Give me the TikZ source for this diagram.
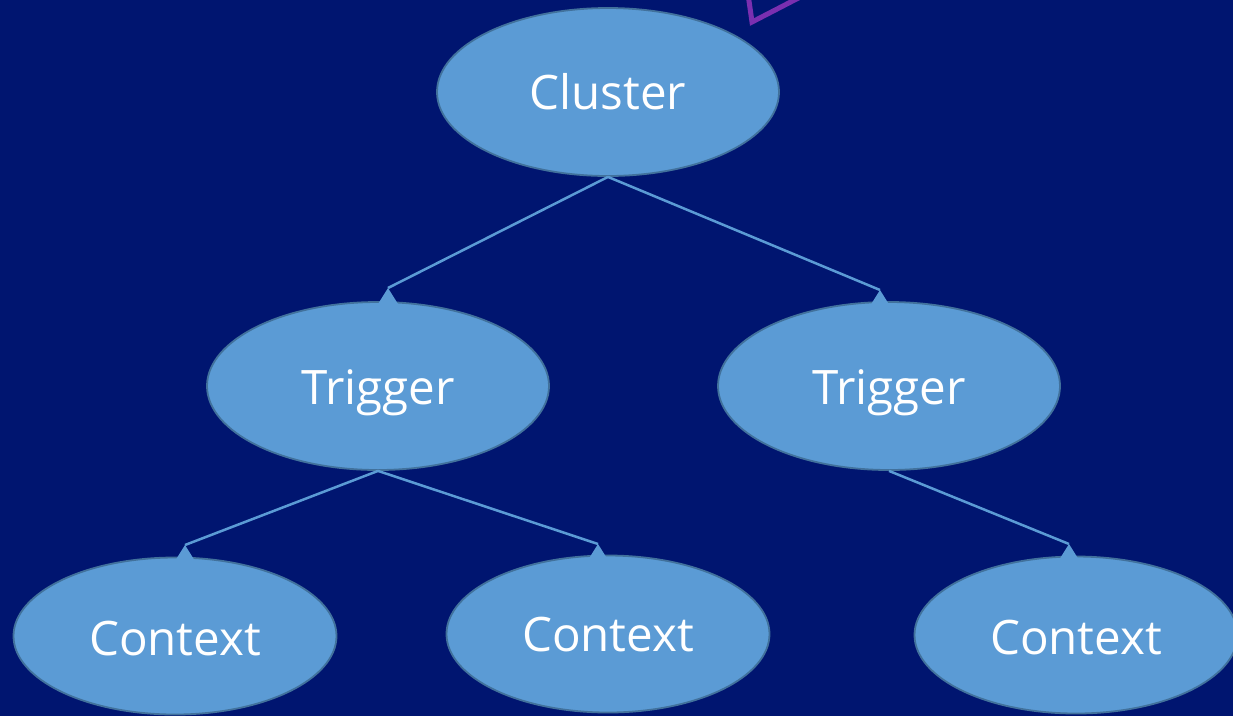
\documentclass[tikz,border=0pt]{standalone}
\usepackage{fontspec}
\setmainfont{Open Sans}
\usetikzlibrary{shapes.geometric}
\definecolor{bgblue}{HTML}{001570}
\definecolor{nodefill}{HTML}{5B9BD5}
\definecolor{nodeedge}{HTML}{41719C}
\definecolor{linkblue}{HTML}{5B9BD5}
\definecolor{accentpurple}{HTML}{7A2FB0}
\tikzset{
  bubble/.style={ellipse, fill=nodefill, draw=nodeedge, line width=1.8pt,
    inner sep=0pt, text=white, font=\fontsize{47.5}{52}\selectfont,
    text height=36pt, text depth=0pt},
  bigbubble/.style={bubble, minimum width=342pt, minimum height=168pt},
  smallbubble/.style={bubble, minimum width=323pt, minimum height=157pt},
  link/.style={draw=linkblue, line width=2.5pt},
  tiphead/.style={fill=linkblue}
}
\begin{document}
\begin{tikzpicture}[x=1pt,y=-1pt]
  \fill[bgblue] (0,0) rectangle (1233,716);
  \useasboundingbox (0,0) rectangle (1233,716);
  \clip (0,0) rectangle (1233,716);

  % partial purple outline at the top edge
  \draw[accentpurple, line width=5pt, line join=miter]
    (746,-20) -- (752,22) -- (810,-8);

  % nodes
  \node[bigbubble, text height=35pt] (cluster) at (608,92) {Cluster};
  \node[bigbubble, text height=37pt] (trigL) at (378,386) {Trigger};
  \node[bigbubble, text height=37pt] (trigR) at (889,386) {Trigger};
  \node[smallbubble, text height=38pt] (ctxA) at (175,636) {Context};
  \node[smallbubble, text height=34pt] (ctxB) at (608,634) {Context};
  \node[smallbubble, text height=38pt] (ctxC) at (1076,635) {Context};

  % connector end points (apex of each head)
  \coordinate (pL) at (388,288);
  \coordinate (pR) at (880,290);
  \coordinate (pA) at (185,545);
  \coordinate (pB) at (598,544);
  \coordinate (pC) at (1069,544);

  % connectors
  \draw[link] (cluster.south) -- (pL);
  \draw[link] (cluster.south) -- (pR);
  \draw[link] (trigL.south) -- (pA);
  \draw[link] (trigL.south) -- (pB);
  \draw[link] (trigR.south) -- (pC);

  % heads
  \foreach \p in {pL,pR,pA,pB,pC}{
    \fill[tiphead] (\p) -- ++(10,16) -- ++(-20,0) -- cycle;
  }
\end{tikzpicture}
\end{document}
